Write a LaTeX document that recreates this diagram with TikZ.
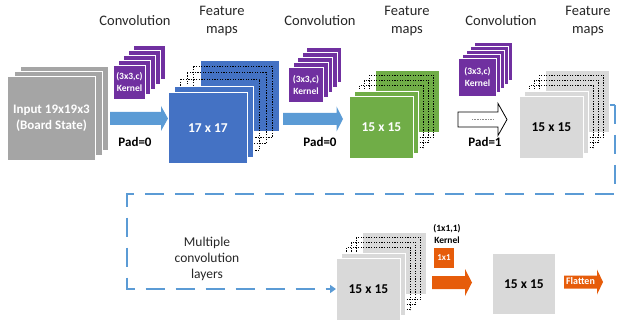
\documentclass[tikz,border=0pt]{standalone}
\usepackage{fontspec}
\setmainfont{Carlito}
\usetikzlibrary{arrows.meta}

\definecolor{inputgray}{HTML}{A5A5A5}
\definecolor{mapblue}{HTML}{4472C4}
\definecolor{mapgreen}{HTML}{70AD47}
\definecolor{mapgray}{HTML}{D9D9D9}
\definecolor{kernpurple}{HTML}{7030A0}
\definecolor{flowblue}{HTML}{5B9BD5}
\definecolor{convorange}{RGB}{230,92,10}

\tikzset{
  layer/.style={draw=white, line width=0.9pt, inner sep=0pt, anchor=north west},
  hidden/.style={draw=black, line width=1pt, dash pattern=on 1.3pt off 1.3pt},
  heading/.style={font=\fontsize{14.5}{18}\selectfont, align=center, text=black!85},
  padlabel/.style={font=\fontsize{13}{16}\selectfont\bfseries, text=black},
  maplabel/.style={font=\fontsize{13.5}{16}\selectfont\bfseries},
  kernlabel/.style={font=\fontsize{9.5}{12}\selectfont\bfseries, align=center, text=white},
  flowline/.style={draw=flowblue, line width=2pt},
}

% block arrow: style, x start, x tip, y centre, body half height, head half height, head length
\newcommand{\blockarrow}[7]{%
  \path[#1] (#2,{#4-#5}) -- ({#3-#7},{#4-#5}) -- ({#3-#7},{#4-#6}) -- (#3,#4)
    -- ({#3-#7},{#4+#6}) -- ({#3-#7},{#4+#5}) -- (#2,{#4+#5}) -- cycle;}

% stack of feature maps: name, x, y (top left of front map), width, height, step, colour, label style, label
\newcommand{\mapstack}[9]{%
  \node[layer, fill=#7, minimum width=#4pt, minimum height=#5pt] (#1-back) at ({#2+5*#6},{#3-5*#6}) {};
  \foreach \k in {4,3,2}
    \draw[hidden] ({#2+\k*#6},{#3-\k*#6}) rectangle ++(#4,#5);
  \node[layer, fill=#7, minimum width=#4pt, minimum height=#5pt] (#1-second) at ({#2+#6},{#3-#6}) {};
  \node[layer, fill=#7, minimum width=#4pt, minimum height=#5pt, maplabel, #8] (#1) at (#2,#3) {#9};
}

% stack of five kernels: name, x, y (top left of front kernel), width, height, dx, dy
\newcommand{\kernstack}[7]{%
  \foreach \k in {4,3,2,1}
    \node[layer, fill=kernpurple, minimum width=#4pt, minimum height=#5pt] (#1-\k) at ({#2+\k*#6},{#3-\k*#7}) {};
  \node[layer, fill=kernpurple, minimum width=#4pt, minimum height=#5pt, kernlabel] (#1) at (#2,#3) {(3x3,c)\\Kernel};
}

\begin{document}
\begin{tikzpicture}[x=1pt, y=-1pt]
\useasboundingbox (0,0) rectangle (617,320);

% input planes
\node[layer, fill=inputgray, minimum width=88pt, minimum height=84pt] (in-3) at (20,66) {};
\node[layer, fill=inputgray, minimum width=88pt, minimum height=84pt] (in-2) at (13.5,71) {};
\node[layer, fill=inputgray, minimum width=88pt, minimum height=84pt, maplabel, text=white, align=center,
      font=\fontsize{13}{16}\selectfont\bfseries] (input) at (7,76) {Input 19x19x3\\(Board State)};

% first convolution
\node[heading] (conv1) at (135,21) {Convolution};
\kernstack{k1}{113}{65}{32}{34}{5}{5}
\blockarrow{fill=flowblue}{110}{168}{118.5}{6.5}{12.5}{7}
\node[padlabel] (pad1) at (135,142) {Pad=0};

% 17 x 17 maps
\node[heading] (feat1) at (222,21) {Feature\\maps};
\mapstack{m1}{168}{92}{79}{71}{6.4}{mapblue}{text=white}{17 x 17}

% second convolution
\node[heading] (conv2) at (320,21) {Convolution};
\kernstack{k2}{288}{67}{35}{35}{4.5}{5}
\blockarrow{fill=flowblue}{283}{343}{119}{6}{12.5}{6.5}
\node[padlabel] (pad2) at (320,142) {Pad=0};

% first 15 x 15 maps
\node[heading] (feat2) at (407,21) {Feature\\maps};
\mapstack{m2}{349}{96}{64}{62}{5.2}{mapgreen}{text=white}{15 x 15}

% third convolution
\node[heading] (conv3) at (501,21) {Convolution};
\kernstack{k3}{458}{58}{38}{38}{4}{4}
\blockarrow{draw=black, fill=white, line width=0.8pt}{458}{507}{119.5}{7.5}{16}{9}
\draw[black!45, line width=0.6pt, dash pattern=on 0.8pt off 0.8pt] (472,119.5) -- (493,119.5);
\node[padlabel] (pad3) at (485,142) {Pad=1};

% second 15 x 15 maps
\node[heading] (feat3) at (588,21) {Feature\\maps};
\mapstack{m3}{519}{96}{64}{62}{5.2}{mapgray}{text=black}{15 x 15}

% repeated layers
\mapstack{m4}{336}{258}{64}{62}{5.2}{mapgray}{text=black}{15 x 15}
\node[heading, font=\fontsize{13.5}{16}\selectfont] (multi) at (207,259) {Multiple\\convolution\\layers};
\coordinate (turn1) at (614.5,105);
\coordinate (turn2) at (614.5,194);
\coordinate (turn3) at (127,194);
\coordinate (turn4) at (127,289);
\draw[flowline] (m3-back.east |- turn1) -- (turn1);
\draw[flowline, dash pattern=on 19pt off 11pt, -{Triangle[length=6pt, width=8pt]}]
  (turn1) -- (turn2) -- (turn3) -- (turn4) -- (m4.west |- turn4);

% 1x1 convolution
\node[font=\fontsize{9.5}{11.5}\selectfont\bfseries, align=center, text=black] (k5lab) at (447,234) {(1x1,1)\\Kernel};
\node[layer, fill=convorange, minimum width=21pt, minimum height=21pt, kernlabel, font=\fontsize{9}{11}\selectfont\bfseries] (k5) at (433,247) {1x1};
\blockarrow{fill=convorange}{432}{472}{282.5}{6.5}{13.5}{7}

% single output map
\node[layer, fill=mapgray, minimum width=63pt, minimum height=61pt, maplabel, text=black] (out) at (492,253) {15 x 15};

% flatten
\blockarrow{fill=convorange}{564}{603}{282}{6.5}{12.5}{6}
\node[font=\fontsize{10}{12}\selectfont\bfseries, text=white, inner sep=0pt] (flat) at (580.5,281.5) {Flatten};
\end{tikzpicture}
\end{document}
